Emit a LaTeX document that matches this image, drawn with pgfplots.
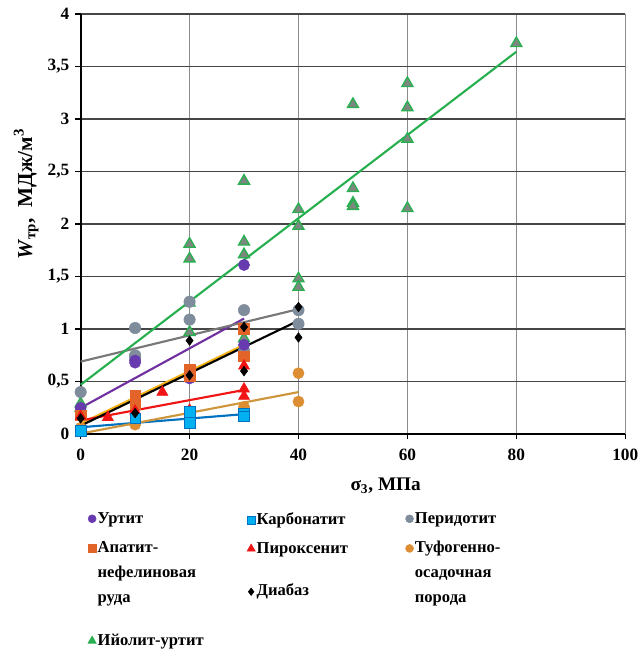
\documentclass[border=0pt]{standalone}
\usepackage{pgfplots}
\pgfplotsset{compat=1.18}
\usepackage{fontspec}
\setmainfont{Liberation Serif}
\definecolor{urt}{RGB}{104,58,176}
\definecolor{urtl}{RGB}{112,48,160}
\definecolor{carbf}{RGB}{0,176,240}
\definecolor{carbd}{RGB}{0,112,192}
\definecolor{perid}{RGB}{127,140,156}
\definecolor{peridl}{RGB}{120,120,120}
\definecolor{apat}{RGB}{226,100,40}
\definecolor{apatl}{RGB}{246,178,20}
\definecolor{pyro}{RGB}{240,20,20}
\definecolor{tuf}{RGB}{222,142,50}
\definecolor{tufl}{RGB}{206,150,60}
\definecolor{iyo}{RGB}{40,176,80}
\definecolor{iyof}{RGB}{125,135,128}
\definecolor{gridv}{RGB}{140,140,140}
\definecolor{gridh}{RGB}{70,70,70}
\pgfplotsset{
  dotleg/.style={legend image code/.code={\draw[##1] plot coordinates {(0pt,0.32em)};}},
  mUrt/.style={only marks, mark=*, mark size=4.2pt, mark options={draw=urt, fill=urt}},
  mCarb/.style={only marks, mark=square*, mark size=4pt, mark options={draw=carbd, fill=carbf}},
  mPer/.style={only marks, mark=*, mark size=4.3pt, mark options={draw=perid, fill=perid}},
  mApat/.style={only marks, mark=square*, mark size=4pt, mark options={draw=apat, fill=apat}},
  mPyro/.style={only marks, mark=triangle*, mark size=4.8pt, mark options={draw=pyro, fill=pyro}},
  mTuf/.style={only marks, mark=*, mark size=4.2pt, mark options={draw=tuf, fill=tuf}},
  mDiab/.style={only marks, mark=diamond*, mark size=3.6pt, mark options={draw=black, fill=black}},
  mIyo/.style={only marks, mark=triangle*, mark size=4.8pt, mark options={draw=iyo, fill=iyof, line width=1pt}},
  tl/.style={no marks, line width=1.6pt},
}
\newcommand{\legfont}{\fontsize{12.5}{18.75}\selectfont\bfseries}
\begin{document}
\begin{tikzpicture}
\begin{axis}[
  name=main, scale only axis, width=410.25pt, height=316.5pt,
  xmin=0, xmax=100, ymin=0, ymax=4,
  xtick={0,20,40,60,80,100}, ytick={0,0.5,1,1.5,2,2.5,3,3.5,4},
  axis x line*=bottom, axis y line*=left,
  axis line style={black, line width=1.6pt, -},
  tick align=outside, major tick length=4pt, tick style={black, line width=1pt},
  grid=major, x grid style={color=gridv, line width=0.9pt}, y grid style={color=gridh, line width=1.1pt},
  ticklabel style={font=\fontsize{13}{15}\selectfont\bfseries},
  xticklabel style={yshift=-4pt},
  yticklabel style={xshift=-1pt},
  /pgf/number format/assume math mode=true, /pgf/number format/use comma,
  xlabel={σ\textsubscript{3}, МПа},
  ylabel={\textit{W}\textsubscript{тр},\ \ МДж/м\textsuperscript{3}},
  xlabel style={font=\fontsize{14.5}{16}\selectfont\bfseries, at={(ticklabel cs:0.56)}, anchor=near ticklabel, yshift=-6pt},
  ylabel style={font=\fontsize{16}{18}\selectfont\bfseries, at={(ticklabel cs:0.571)}, anchor=near ticklabel},
  clip=false,
  legend columns=2,
  legend style={at={(rel axis cs:0.013,-0.182)}, anchor=north west, draw=none, fill=none,
    inner sep=0pt, font=\legfont, nodes={inner sep=1pt, text depth=}, cells={anchor=base west},
    row sep=9pt, /tikz/every even column/.append style={column sep=121pt}},
]
% --- data points ---
\addplot[mIyo, forget plot] coordinates {(0,0.29) (0,0.25) (20,1.81) (20,1.67) (20,1.25) (20,0.97)
  (30,2.41) (30,1.83) (30,1.71) (30,0.91) (40,2.14) (40,1.98) (40,1.48) (40,1.40)
  (50,3.14) (50,2.34) (50,2.20) (50,2.17) (60,3.34) (60,3.11) (60,2.81) (60,2.15) (80,3.72)};
\addplot[mPer, forget plot] coordinates {(0,0.40) (10,1.01) (10,0.75) (10,0.72) (20,1.09) (20,1.26)
  (30,1.18) (30,0.79) (40,1.18) (40,1.05)};
\addplot[mUrt, forget plot] coordinates {(0,0.25) (10,0.70) (10,0.68) (20,0.53) (30,1.61) (30,0.85)};
\addplot[mApat, forget plot] coordinates {(0,0.18) (10,0.37) (10,0.29) (20,0.61) (20,0.55) (30,1.00) (30,0.74)};
\addplot[mPyro, forget plot] coordinates {(0,0.17) (5,0.16) (10,0.22) (15,0.40) (20,0.23) (30,0.65) (30,0.43) (30,0.36)};
\addplot[mTuf, forget plot] coordinates {(0,0.06) (10,0.09) (20,0.14) (30,0.26) (40,0.58) (40,0.31)};
\addplot[mCarb, forget plot] coordinates {(0,0.03) (10,0.15) (20,0.21) (20,0.11) (30,0.20) (30,0.17)};
\addplot[mDiab, forget plot] coordinates {(0,0.15) (10,0.20) (20,0.89) (20,0.56) (30,1.02) (30,0.60) (40,1.21) (40,0.92)};
% --- trend lines ---
\addplot[tl, color=urtl, forget plot] coordinates {(0,0.25) (30,1.10)};
\addplot[tl, color=carbd, forget plot] coordinates {(0,0.065) (30,0.19)};
\addplot[tl, color=peridl, forget plot] coordinates {(0,0.69) (40,1.19)};
\addplot[tl, color=apatl, forget plot] coordinates {(0,0.10) (30,0.85)};
\addplot[tl, color=pyro, forget plot] coordinates {(0,0.13) (30,0.42)};
\addplot[tl, color=tufl, forget plot] coordinates {(0,0.005) (40,0.40)};
\addplot[tl, color=black, forget plot] coordinates {(0,0.08) (40,1.08)};
\addplot[tl, color=iyo, forget plot] coordinates {(0,0.47) (80,3.64)};
% --- legend (columns 1 and 3) ---
\addlegendimage{dotleg, mUrt, mark size=3pt}
\addlegendentry{\parbox[t]{110pt}{Уртит}}
\addlegendimage{dotleg, mPer, mark size=3pt}
\addlegendentry{\parbox[t]{110pt}{Перидотит}}
\addlegendimage{dotleg, mApat, mark size=3pt}
\addlegendentry{\parbox[t]{110pt}{Апатит-\\нефелиновая\\руда\rule[-12.5pt]{0pt}{1pt}}}
\addlegendimage{dotleg, mTuf, mark size=3pt}
\addlegendentry{\parbox[t]{110pt}{Туфогенно-\\осадочная\\порода\rule[-12.5pt]{0pt}{1pt}}}
\addlegendimage{dotleg, mIyo, mark size=3.6pt, mark options={draw=iyo, fill=iyo}}
\addlegendentry{\parbox[t]{110pt}{Ийолит-уртит}}
\end{axis}
\begin{axis}[
  at={(main.south west)}, anchor=south west,
  scale only axis, width=410.25pt, height=316.5pt,
  xmin=0, xmax=100, ymin=0, ymax=4, hide axis,
  legend columns=1,
  legend style={at={(rel axis cs:0.305,-0.182)}, anchor=north west, draw=none, fill=none,
    inner sep=0pt, font=\legfont, nodes={inner sep=1pt, text depth=}, cells={anchor=base west},
    row sep=9pt},
]
\addlegendimage{dotleg, mCarb, mark size=3pt}
\addlegendentry{\parbox[t]{110pt}{Карбонатит}}
\addlegendimage{dotleg, mPyro, mark size=3.6pt}
\addlegendentry{\parbox[t]{110pt}{Пироксенит\rule[-12.4pt]{0pt}{1pt}}}
\addlegendimage{dotleg, mDiab, mark size=2.8pt}
\addlegendentry{\parbox[t]{110pt}{Диабаз}}
\end{axis}
\path ([shift={(-60.75pt,-160.5pt)}]main.south west) rectangle ([shift={(12.75pt,10.5pt)}]main.north east);
\end{tikzpicture}
\end{document}
